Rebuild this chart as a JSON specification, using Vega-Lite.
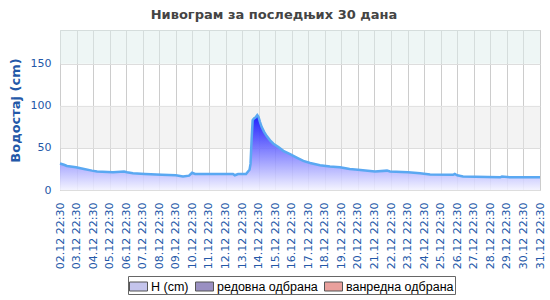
{
  "$schema": "https://vega.github.io/schema/vega-lite/v6.json",
  "autosize": "none",
  "width": 480,
  "height": 160,
  "padding": {"left": 60, "top": 30, "right": 10, "bottom": 110},
  "background": "white",
  "title": {"text": "Нивограм за последњих 30 дана", "font": "DejaVu Sans", "fontSize": 13, "fontWeight": "bold", "color": "#444444", "anchor": "middle", "dx": -26, "offset": 8},
  "config": {
    "view": {"stroke": "#cccccc", "strokeWidth": 1},
    "axis": {"labelFont": "DejaVu Sans", "titleFont": "DejaVu Sans"}
  },
  "datasets": {
    "level": [
      {"t": "2024-12-02T22:30", "h": 31.5},
      {"t": "2024-12-03T04:15", "h": 30},
      {"t": "2024-12-03T08:35", "h": 28.5},
      {"t": "2024-12-03T21:45", "h": 27},
      {"t": "2024-12-04T09:20", "h": 25},
      {"t": "2024-12-04T20:50", "h": 23},
      {"t": "2024-12-05T04:15", "h": 22},
      {"t": "2024-12-06T03:20", "h": 21},
      {"t": "2024-12-06T19:20", "h": 22},
      {"t": "2024-12-06T23:40", "h": 21},
      {"t": "2024-12-07T08:20", "h": 20},
      {"t": "2024-12-08T01:50", "h": 19},
      {"t": "2024-12-09T02:20", "h": 18},
      {"t": "2024-12-09T22:30", "h": 17.5},
      {"t": "2024-12-10T08:50", "h": 16},
      {"t": "2024-12-10T17:40", "h": 17},
      {"t": "2024-12-10T22:00", "h": 20.5},
      {"t": "2024-12-11T02:20", "h": 19},
      {"t": "2024-12-13T09:20", "h": 19},
      {"t": "2024-12-13T12:00", "h": 17.5},
      {"t": "2024-12-13T16:40", "h": 19},
      {"t": "2024-12-14T04:15", "h": 19},
      {"t": "2024-12-14T07:10", "h": 22},
      {"t": "2024-12-14T09:20", "h": 24},
      {"t": "2024-12-14T10:45", "h": 31},
      {"t": "2024-12-14T12:25", "h": 61},
      {"t": "2024-12-14T13:50", "h": 83},
      {"t": "2024-12-14T15:45", "h": 85},
      {"t": "2024-12-14T17:55", "h": 86},
      {"t": "2024-12-14T20:35", "h": 89},
      {"t": "2024-12-14T22:15", "h": 87},
      {"t": "2024-12-15T00:25", "h": 81},
      {"t": "2024-12-15T02:50", "h": 75},
      {"t": "2024-12-15T06:25", "h": 69},
      {"t": "2024-12-15T10:15", "h": 64},
      {"t": "2024-12-15T15:05", "h": 59},
      {"t": "2024-12-15T19:55", "h": 55},
      {"t": "2024-12-16T03:05", "h": 51},
      {"t": "2024-12-16T10:15", "h": 46.5},
      {"t": "2024-12-16T20:05", "h": 42.5},
      {"t": "2024-12-17T05:40", "h": 38.5},
      {"t": "2024-12-17T15:20", "h": 34.5},
      {"t": "2024-12-18T01:10", "h": 32},
      {"t": "2024-12-18T15:30", "h": 29.5},
      {"t": "2024-12-19T05:55", "h": 28},
      {"t": "2024-12-19T20:30", "h": 27},
      {"t": "2024-12-20T10:30", "h": 25},
      {"t": "2024-12-20T22:30", "h": 24},
      {"t": "2024-12-21T23:15", "h": 22},
      {"t": "2024-12-22T16:40", "h": 23},
      {"t": "2024-12-22T21:05", "h": 22},
      {"t": "2024-12-23T23:10", "h": 21},
      {"t": "2024-12-24T16:30", "h": 20},
      {"t": "2024-12-25T07:05", "h": 18.5},
      {"t": "2024-12-26T16:30", "h": 18},
      {"t": "2024-12-26T18:55", "h": 19},
      {"t": "2024-12-26T22:30", "h": 17.5},
      {"t": "2024-12-27T06:55", "h": 16},
      {"t": "2024-12-29T12:40", "h": 15},
      {"t": "2024-12-29T15:20", "h": 16},
      {"t": "2024-12-30T03:05", "h": 15},
      {"t": "2024-12-31T22:30", "h": 15}
    ]
  },
  "layer": [
    {
      "data": {"values": [{"lo": 150, "hi": 190}]},
      "mark": {"type": "rect", "fill": "#ddedeb", "opacity": 0.5},
      "encoding": {
        "y": {"field": "lo", "type": "quantitative", "scale": {"domain": [0, 190], "nice": false}},
        "y2": {"field": "hi"}
      }
    },
    {
      "data": {"values": [{"lo": 50, "hi": 100}]},
      "mark": {"type": "rect", "fill": "#e7e7e7", "opacity": 0.5},
      "encoding": {
        "y": {"field": "lo", "type": "quantitative"},
        "y2": {"field": "hi"}
      }
    },
    {
      "data": {"name": "level"},
      "mark": {
        "type": "area",
        "fillOpacity": 0.88,
        "fill": {"gradient": "linear", "x1": 0, "y1": 0, "x2": 0, "y2": 1, "stops": [{"offset": 0, "color": "#0000ff"}, {"offset": 1, "color": "#f2f2ff"}]},
        "line": {"color": "#5aa8f2", "strokeWidth": 2.5}
      },
      "encoding": {
        "x": {
          "field": "t", "type": "temporal",
          "scale": {"domain": [{"year": 2024, "month": 12, "date": 2, "hours": 22, "minutes": 30}, {"year": 2024, "month": 12, "date": 31, "hours": 22, "minutes": 30}]},
          "axis": {
            "title": null,
            "format": "%d.%m %H:%M",
            "labelAngle": -90,
            "labelColor": "#2358a8",
            "labelFontSize": 11,
            "labelPadding": 12,
            "labelOverlap": false,
            "labelFlush": false,
            "ticks": false,
            "domain": false,
            "grid": true,
            "gridColor": "#cccccc",
            "values": [
              {"year": 2024, "month": 12, "date": 2, "hours": 22, "minutes": 30},
              {"year": 2024, "month": 12, "date": 3, "hours": 22, "minutes": 30},
              {"year": 2024, "month": 12, "date": 4, "hours": 22, "minutes": 30},
              {"year": 2024, "month": 12, "date": 5, "hours": 22, "minutes": 30},
              {"year": 2024, "month": 12, "date": 6, "hours": 22, "minutes": 30},
              {"year": 2024, "month": 12, "date": 7, "hours": 22, "minutes": 30},
              {"year": 2024, "month": 12, "date": 8, "hours": 22, "minutes": 30},
              {"year": 2024, "month": 12, "date": 9, "hours": 22, "minutes": 30},
              {"year": 2024, "month": 12, "date": 10, "hours": 22, "minutes": 30},
              {"year": 2024, "month": 12, "date": 11, "hours": 22, "minutes": 30},
              {"year": 2024, "month": 12, "date": 12, "hours": 22, "minutes": 30},
              {"year": 2024, "month": 12, "date": 13, "hours": 22, "minutes": 30},
              {"year": 2024, "month": 12, "date": 14, "hours": 22, "minutes": 30},
              {"year": 2024, "month": 12, "date": 15, "hours": 22, "minutes": 30},
              {"year": 2024, "month": 12, "date": 16, "hours": 22, "minutes": 30},
              {"year": 2024, "month": 12, "date": 17, "hours": 22, "minutes": 30},
              {"year": 2024, "month": 12, "date": 18, "hours": 22, "minutes": 30},
              {"year": 2024, "month": 12, "date": 19, "hours": 22, "minutes": 30},
              {"year": 2024, "month": 12, "date": 20, "hours": 22, "minutes": 30},
              {"year": 2024, "month": 12, "date": 21, "hours": 22, "minutes": 30},
              {"year": 2024, "month": 12, "date": 22, "hours": 22, "minutes": 30},
              {"year": 2024, "month": 12, "date": 23, "hours": 22, "minutes": 30},
              {"year": 2024, "month": 12, "date": 24, "hours": 22, "minutes": 30},
              {"year": 2024, "month": 12, "date": 25, "hours": 22, "minutes": 30},
              {"year": 2024, "month": 12, "date": 26, "hours": 22, "minutes": 30},
              {"year": 2024, "month": 12, "date": 27, "hours": 22, "minutes": 30},
              {"year": 2024, "month": 12, "date": 28, "hours": 22, "minutes": 30},
              {"year": 2024, "month": 12, "date": 29, "hours": 22, "minutes": 30},
              {"year": 2024, "month": 12, "date": 30, "hours": 22, "minutes": 30},
              {"year": 2024, "month": 12, "date": 31, "hours": 22, "minutes": 30}
            ]
          }
        },
        "y": {
          "field": "h", "type": "quantitative",
          "axis": {
            "title": "Водостај (cm)",
            "titleColor": "#2358a8",
            "titleFontSize": 13,
            "titleFontWeight": "bold",
            "titlePadding": 8,
            "values": [0, 50, 100, 150],
            "labelColor": "#2358a8",
            "labelFontSize": 11,
            "labelPadding": 9,
            "ticks": false,
            "domain": false,
            "grid": true,
            "gridColor": "#dddddd"
          }
        }
      }
    },
    {
      "data": {"values": [{"series": "H (cm)"}, {"series": "редовна одбрана"}, {"series": "ванредна одбрана"}]},
      "mark": {"type": "point", "opacity": 0, "filled": true},
      "encoding": {
        "color": {
          "field": "series", "type": "nominal",
          "scale": {"domain": ["H (cm)", "редовна одбрана", "ванредна одбрана"], "range": ["#c4c4ec", "#9a90c2", "#e9a09c"]},
          "legend": {
            "title": null,
            "orient": "none",
            "legendX": 68,
            "legendY": 246,
            "direction": "horizontal",
            "symbolType": "M-1,-0.5H1V0.5H-1Z",
            "symbolSize": 324,
            "symbolOpacity": 1,
            "symbolStrokeColor": "#555555",
            "symbolStrokeWidth": 1,
            "labelFont": "Liberation Sans",
            "labelFontSize": 12.5,
            "labelColor": "#000000",
            "labelOffset": 3,
            "columnPadding": 4,
            "strokeColor": "#666666",
            "padding": 1,
            "cornerRadius": 0
          }
        }
      }
    }
  ]
}
